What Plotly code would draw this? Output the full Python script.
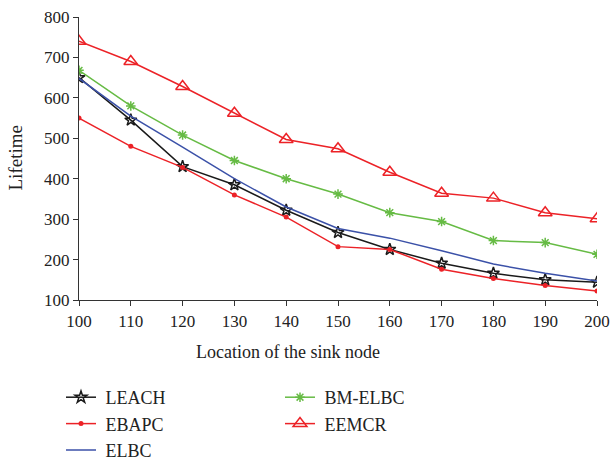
import plotly.graph_objects as go

x_vals = [100, 110, 120, 130, 140, 150, 160, 170, 180, 190, 200]
leach = [650, 545, 430, 385, 322, 267, 225, 191, 166, 150, 144]
ebapc = [550, 480, 428, 360, 305, 232, 225, 176, 153, 136, 122]
elbc = [648, 555, 478, 400, 330, 277, 253, 222, 189, 166, 147]
bm_elbc = [668, 580, 508, 445, 400, 362, 316, 294, 247, 242, 213]
eemcr = [740, 690, 628, 562, 497, 474, 416, 364, 352, 316, 301]

FONT = "Liberation Serif"
RED = "#ec2227"
NB = "\u00a0"
fig = go.Figure()
fig.add_trace(go.Scatter(x=x_vals, y=leach, name=NB + "LEACH", mode="lines+markers",
                         line=dict(color="#1a1a1a", width=1.5),
                         marker=dict(symbol="star-open", size=9, color="#1a1a1a", line=dict(width=1.5)),
                         legend="legend"))
fig.add_trace(go.Scatter(x=x_vals, y=ebapc, name=NB + "EBAPC", mode="lines+markers",
                         line=dict(color=RED, width=1.5),
                         marker=dict(symbol="circle", size=5, color=RED),
                         legend="legend"))
fig.add_trace(go.Scatter(x=x_vals, y=elbc, name=NB + "ELBC", mode="lines",
                         line=dict(color="#3b51a8", width=1.5),
                         legend="legend"))
fig.add_trace(go.Scatter(x=x_vals, y=bm_elbc, name=NB + "BM-ELBC", mode="lines+markers",
                         line=dict(color="#66bb44", width=1.5),
                         marker=dict(symbol="asterisk-open", size=8, color="#66bb44", line=dict(width=1.5, color="#66bb44")),
                         legend="legend2"))
fig.add_trace(go.Scatter(x=x_vals, y=eemcr, name=NB + "EEMCR", mode="lines+markers",
                         line=dict(color=RED, width=1.5),
                         marker=dict(symbol="triangle-up-open", size=12, color=RED, line=dict(width=1.5)),
                         legend="legend2"))

legend_common = dict(font=dict(family=FONT, size=18, color="#222"), bgcolor="rgba(0,0,0,0)",
                     tracegroupgap=0, itemwidth=30, xref="container", yref="container",
                     xanchor="left", yanchor="top", orientation="v")
fig.update_layout(
    width=613, height=461,
    margin=dict(l=79, r=16, t=17, b=161, autoexpand=False),
    paper_bgcolor="white", plot_bgcolor="white",
    font=dict(family=FONT, size=17, color="#222"),
    showlegend=True,
    legend=dict(x=61/613, y=1 - 379/461, **legend_common),
    legend2=dict(x=280/613, y=1 - 379/461, **legend_common),
    xaxis=dict(range=[100, 200], tickvals=x_vals, tickangle=0, showgrid=False, zeroline=False,
               showline=True, linecolor="#333", linewidth=1.2, ticks="outside", ticklen=5,
               tickcolor="#333", tickfont=dict(size=17)),
    yaxis=dict(range=[100, 800], dtick=100, showgrid=False, zeroline=False,
               showline=True, linecolor="#333", linewidth=1.2, ticks="outside", ticklen=5,
               tickcolor="#333", tickfont=dict(size=17)),
    annotations=[
        dict(text="Location of the sink node", xref="paper", yref="paper",
             x=(288 - 79) / 518, y=-(352 - 300) / 283, xanchor="center", yanchor="middle",
             showarrow=False, font=dict(family=FONT, size=18, color="#222")),
        dict(text="Lifetime", xref="paper", yref="paper", textangle=-90,
             x=(15 - 79) / 518, y=0.5, xanchor="center", yanchor="middle",
             showarrow=False, font=dict(family=FONT, size=19, color="#222")),
    ],
)
fig.write_html("out.html")
